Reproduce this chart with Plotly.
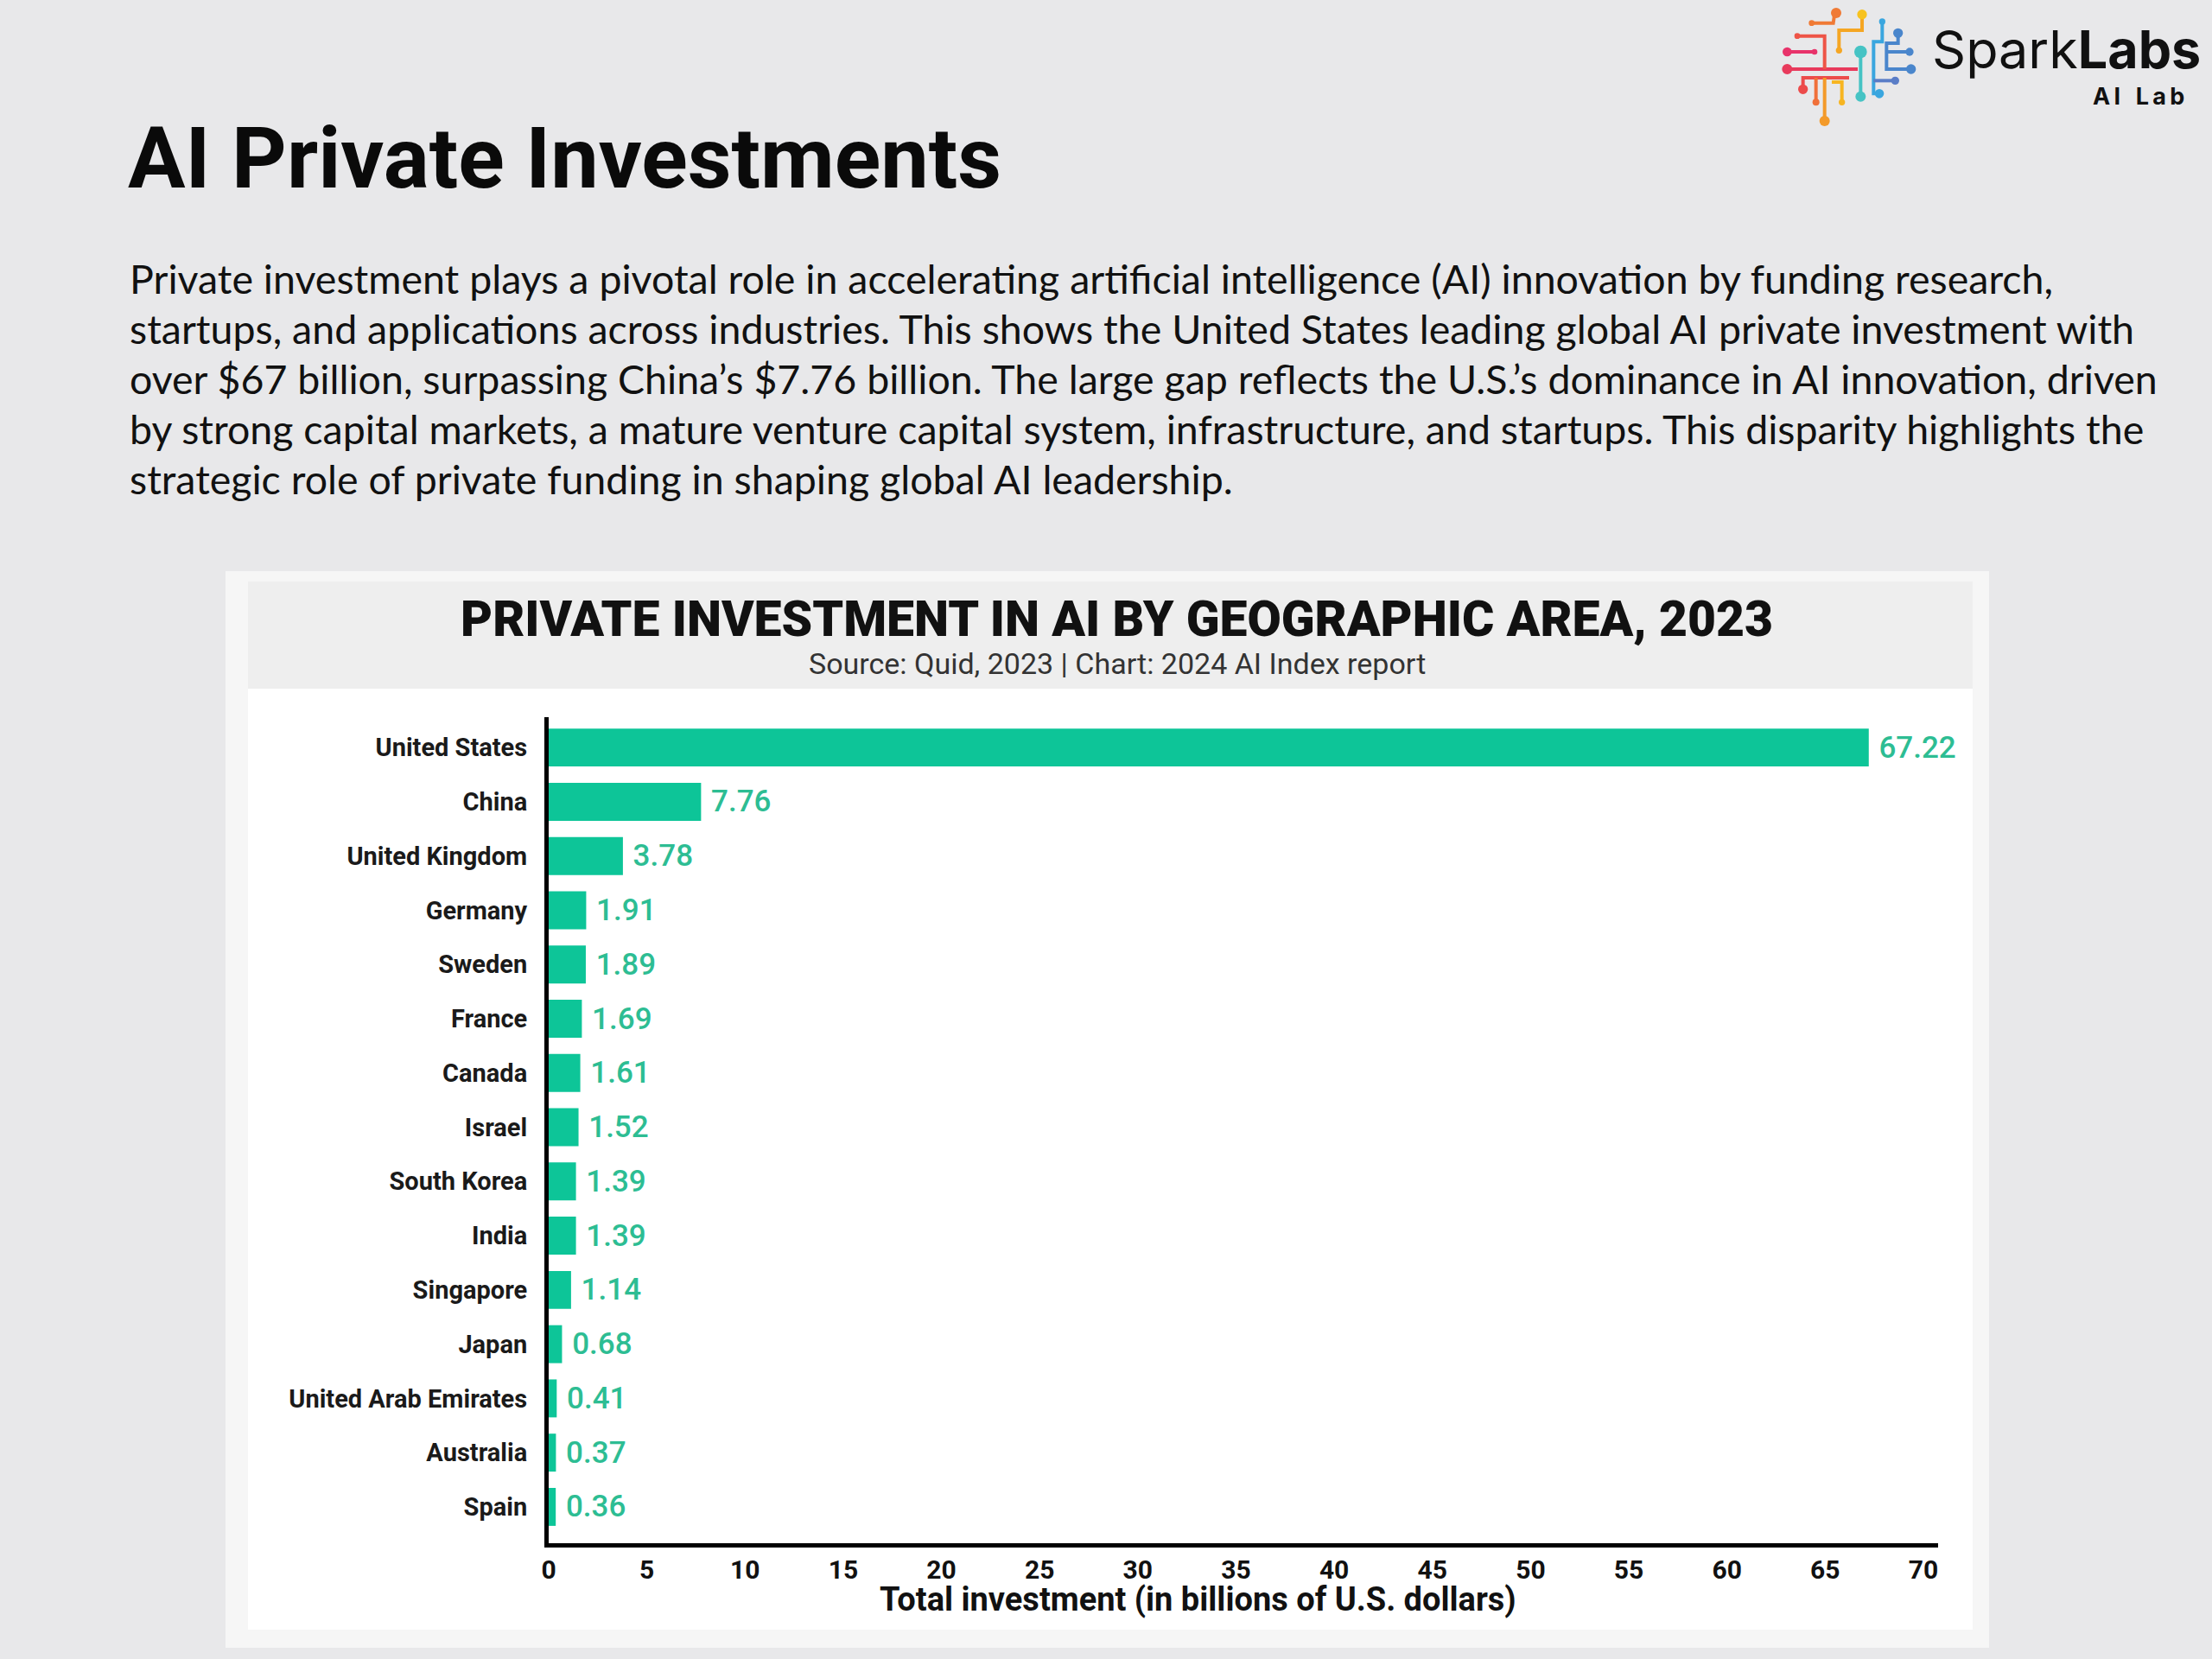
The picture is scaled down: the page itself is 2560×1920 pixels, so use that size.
import plotly.graph_objects as go

# ---------------- data ----------------
countries = ["United States", "China", "United Kingdom", "Germany", "Sweden", "France",
             "Canada", "Israel", "South Korea", "India", "Singapore", "Japan",
             "United Arab Emirates", "Australia", "Spain"]
investment = [67.22, 7.76, 3.78, 1.91, 1.89, 1.69, 1.61, 1.52, 1.39, 1.39, 1.14,
              0.68, 0.41, 0.37, 0.36]
x_ticks = [0, 5, 10, 15, 20, 25, 30, 35, 40, 45, 50, 55, 60, 65, 70]

page_title = "AI Private Investments"
paragraph_lines = [
    "Private investment plays a pivotal role in accelerating artificial intelligence (AI) innovation by funding research,",
    "startups, and applications across industries. This shows the United States leading global AI private investment with",
    "over $67 billion, surpassing China’s $7.76 billion. The large gap reflects the U.S.’s dominance in AI innovation, driven",
    "by strong capital markets, a mature venture capital system, infrastructure, and startups. This disparity highlights the",
    "strategic role of private funding in shaping global AI leadership.",
]
chart_title = "PRIVATE INVESTMENT IN AI BY GEOGRAPHIC AREA, 2023"
chart_subtitle = "Source: Quid, 2023 | Chart: 2024 AI Index report"
x_title = "Total investment (in billions of U.S. dollars)"

# ---------------- helpers ----------------
W, H = 2560, 1920


def px(x):
    return x / W


def py(y):
    return 1 - y / H


BAR = "#0DC598"
LABEL = "#2DBD93"

fig = go.Figure(
    go.Bar(
        x=investment,
        y=countries,
        orientation="h",
        width=0.70,
        marker=dict(color=BAR, line=dict(width=0)),
        text=["\u00a0" + f"{v:.2f}" for v in investment],
        textposition="outside",
        cliponaxis=False,
        textfont=dict(family="Roboto", size=35, color=LABEL, weight=500),
        hoverinfo="skip",
    )
)

shapes = []
# chart card: outer frame, header, body
shapes.append(dict(type="rect", xref="paper", yref="paper", layer="below",
                   x0=px(261), x1=px(2302), y0=py(1907), y1=py(661),
                   fillcolor="#f6f6f6", line=dict(width=0)))
shapes.append(dict(type="rect", xref="paper", yref="paper", layer="below",
                   x0=px(287), x1=px(2283), y0=py(797), y1=py(673),
                   fillcolor="#eeeeee", line=dict(width=0)))
shapes.append(dict(type="rect", xref="paper", yref="paper", layer="below",
                   x0=px(287), x1=px(2283), y0=py(1886), y1=py(797),
                   fillcolor="#ffffff", line=dict(width=0)))

# ---------------- logo (decorative circuit) ----------------
logo_lines = [
    ("#e8336b", [(85, 180), (175, 180)]),
    ("#e83a5c", [(85, 240), (330, 240)]),
    ("#ee5447", [(120, 125), (215, 125), (215, 240)]),
    ("#f07a35", [(170, 80), (245, 80), (250, 45)]),
    ("#f5a623", [(345, 50), (345, 105), (265, 105), (265, 175)]),
    ("#46c3c4", [(340, 180), (340, 335)]),
    ("#3aa6df", [(415, 75), (415, 145), (385, 145), (385, 325), (405, 325)]),
    ("#4a86cc", [(470, 115), (470, 150), (430, 150), (430, 240), (515, 240)]),
    ("#4a86cc", [(430, 180), (510, 180)]),
    ("#5a7dc7", [(385, 280), (460, 280)]),
    ("#ec4b4b", [(140, 310), (140, 270), (300, 270)]),
    ("#f0703a", [(185, 355), (185, 270)]),
    ("#f39a2a", [(215, 420), (215, 270)]),
    ("#f7b521", [(275, 355), (275, 285), (240, 285)]),
]
logo_dots = [
    ("#e8336b", 85, 180, 16), ("#e8336b", 180, 180, 10),
    ("#e83a5c", 85, 240, 18), ("#ee5447", 120, 125, 10),
    ("#f07a35", 170, 80, 10), ("#f07a35", 255, 45, 18),
    ("#f7c21f", 345, 50, 17), ("#f5a623", 265, 175, 11),
    ("#46c3c4", 340, 180, 22), ("#46c3c4", 340, 335, 18),
    ("#3aa6df", 415, 75, 11), ("#3aa6df", 405, 325, 16),
    ("#4a86cc", 470, 115, 17), ("#4a86cc", 510, 180, 14),
    ("#4a86cc", 515, 240, 17), ("#5a7dc7", 460, 280, 14),
    ("#ec4b4b", 140, 310, 17), ("#f0703a", 185, 355, 12),
    ("#f39a2a", 215, 420, 18), ("#f7b521", 275, 355, 11),
]


def lx(xs):
    return 2040 + xs / 3


def ly(ys):
    return ys / 3


for col, pts in logo_lines:
    path = "M " + " L ".join(f"{px(lx(a)):.5f},{py(ly(b)):.5f}" for a, b in pts)
    shapes.append(dict(type="path", xref="paper", yref="paper", path=path,
                       line=dict(color=col, width=4)))
for col, a, b, r in logo_dots:
    cx, cy, rr = lx(a), ly(b), r / 3
    shapes.append(dict(type="circle", xref="paper", yref="paper",
                       x0=px(cx - rr), x1=px(cx + rr), y0=py(cy + rr), y1=py(cy - rr),
                       fillcolor=col, line=dict(width=0)))

# ---------------- annotations ----------------
annotations = []
annotations.append(dict(text="<b>" + page_title + "</b>", xref="paper", yref="paper",
                        x=px(146), y=py(183), xanchor="left", yanchor="middle",
                        showarrow=False,
                        font=dict(family="Roboto", size=99, color="#0a0a0a")))
para_y = [322, 380, 438, 496, 554]
for line, yy in zip(paragraph_lines, para_y):
    annotations.append(dict(text=line, xref="paper", yref="paper",
                            x=px(148), y=py(yy), xanchor="left", yanchor="middle",
                            showarrow=False,
                            font=dict(family="Lato", size=46.5, color="#111111")))
annotations.append(dict(text=chart_title, xref="paper", yref="paper",
                        x=px(1292), y=py(716), xanchor="center", yanchor="middle",
                        showarrow=False,
                        font=dict(family="Roboto", size=57, color="#111111", weight=900)))
annotations.append(dict(text=chart_subtitle, xref="paper", yref="paper",
                        x=px(1293), y=py(768), xanchor="center", yanchor="middle",
                        showarrow=False,
                        font=dict(family="Roboto", size=34, color="#333333")))
annotations.append(dict(text="<b>" + x_title + "</b>", xref="paper", yref="paper",
                        x=px(1386), y=py(1851), xanchor="center", yanchor="middle",
                        showarrow=False,
                        font=dict(family="Roboto", size=38, color="#111111")))
# logo text
annotations.append(dict(text="Spark<b>Labs</b>", xref="paper", yref="paper",
                        x=px(2549), y=py(57), xanchor="right", yanchor="middle",
                        showarrow=False,
                        font=dict(family="Inter", size=61, color="#111111")))
annotations.append(dict(text="<b>A\u2009I\u2009\u2002L\u2009a\u2009b</b>", xref="paper", yref="paper",
                        x=px(2530), y=py(111), xanchor="right", yanchor="middle",
                        showarrow=False,
                        font=dict(family="Inter", size=27, color="#111111")))

fig.update_layout(
    width=W, height=H,
    autosize=False,
    margin=dict(l=0, r=0, t=0, b=0),
    paper_bgcolor="#e8e8ea",
    plot_bgcolor="rgba(0,0,0,0)",
    showlegend=False,
    shapes=shapes,
    annotations=annotations,
    xaxis=dict(
        domain=[px(635), px(2243)],
        range=[0, 70.75],
        tickmode="array",
        tickvals=x_ticks,
        ticktext=[str(t) for t in x_ticks],
        showline=True, linewidth=5, linecolor="#000000",
        showgrid=False, zeroline=False, ticks="",
        tickfont=dict(family="Roboto", size=30, color="#111111", weight="bold"),
        ticklabelstandoff=0,
        automargin=False,
        fixedrange=True,
    ),
    yaxis=dict(
        domain=[py(1786), py(830)],
        type="category",
        categoryorder="array",
        categoryarray=countries,
        range=[len(countries) - 1 + 0.67, -0.56],
        showline=True, linewidth=5, linecolor="#000000",
        showgrid=False, zeroline=False, ticks="",
        tickfont=dict(family="Roboto", size=29, color="#1a1a1a", weight="bold"),
        ticklabelstandoff=14,
        automargin=False,
        fixedrange=True,
    ),
    bargap=0.3,
)

fig.write_html("out.html", config={"displayModeBar": False},
               post_script="document.body.style.margin='0px';")
